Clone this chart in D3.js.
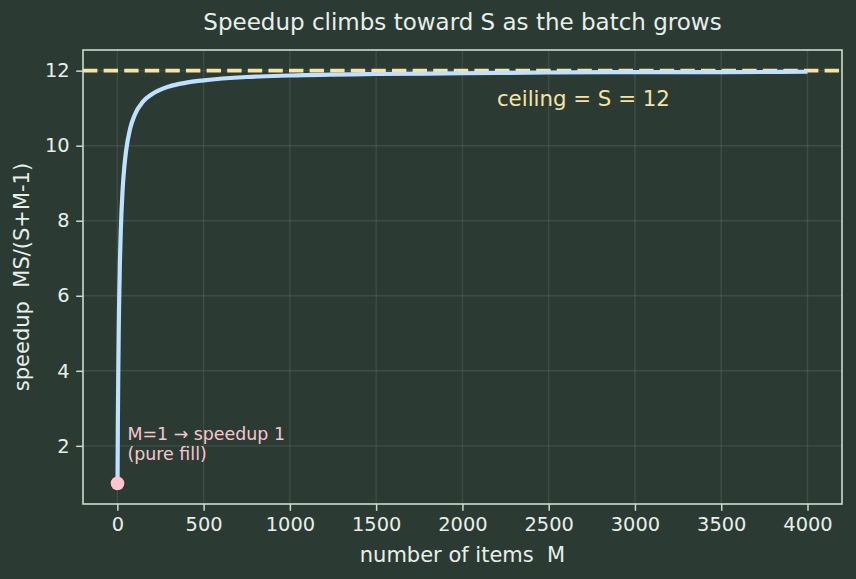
<!DOCTYPE html>
<html>
<head>
<meta charset="utf-8">
<script src="https://cdn.jsdelivr.net/npm/d3@7"></script>
<style>
  body { margin: 0; background: #2b3b34; }
  text { font-family: "DejaVu Sans", sans-serif; white-space: pre; }
</style>
</head>
<body>
<div id="chart"></div>
<script>
// values
var items = [1, 3, 5, 8, 10, 15, 20, 30, 40, 50, 75, 100, 150, 200, 300, 400, 500, 750, 1000, 1500, 2000, 2500, 3000, 3500, 4000];
var speedup = [1, 2.57, 3.75, 5.05, 5.71, 6.92, 7.74, 8.78, 9.41, 9.84, 10.47, 10.81, 11.18, 11.37, 11.58, 11.68, 11.74, 11.83, 11.87, 11.91, 11.93, 11.95, 11.96, 11.96, 11.97];
var ceiling = 12;
var xTicks = [0, 500, 1000, 1500, 2000, 2500, 3000, 3500, 4000];
var yTicks = [2, 4, 6, 8, 10, 12];

var W = 856, H = 579;
var margin = {top: 50, right: 14, bottom: 75, left: 83},
    width = W - margin.left - margin.right,
    height = H - margin.top - margin.bottom;

var fg = "#c9dccf", txt = "#e8efe9";

var svg = d3.select("#chart").append("svg")
    .attr("width", W).attr("height", H)
    .style("background", "#2b3b34");

svg.append("text")
    .attr("x", margin.left + width / 2).attr("y", 30)
    .attr("text-anchor", "middle")
    .attr("fill", txt).style("font-size", "23px")
    .text("Speedup climbs toward S as the batch grows");

var g = svg.append("g")
    .attr("transform", "translate(" + margin.left + "," + margin.top + ")");

var x = d3.scaleLinear().domain([-199, 4200]).range([0, width]);
var y = d3.scaleLinear().domain([0.45, 12.55]).range([height, 0]);

// grid
g.append("g").selectAll("line").data(xTicks).enter().append("line")
    .attr("x1", d => x(d)).attr("x2", d => x(d))
    .attr("y1", 0).attr("y2", height)
    .attr("stroke", "#ffffff").attr("stroke-opacity", 0.09).attr("stroke-width", 1.4);
g.append("g").selectAll("line").data(yTicks).enter().append("line")
    .attr("y1", d => y(d)).attr("y2", d => y(d))
    .attr("x1", 0).attr("x2", width)
    .attr("stroke", "#ffffff").attr("stroke-opacity", 0.09).attr("stroke-width", 1.4);

// axes
var xAxis = d3.axisBottom(x).tickValues(xTicks).tickSize(6.8).tickPadding(6.5).tickFormat(d3.format("d"));
var yAxis = d3.axisLeft(y).tickValues(yTicks).tickSize(6.8).tickPadding(6.5);

var gx = g.append("g").attr("transform", "translate(0," + height + ")").call(xAxis);
var gy = g.append("g").call(yAxis);
[gx, gy].forEach(function(a) {
    a.select(".domain").remove();
    a.selectAll("line").attr("stroke", fg).attr("stroke-width", 1.5);
    a.selectAll("text").attr("fill", txt).style("font-size", "19.4px")
        .style("font-family", "DejaVu Sans, sans-serif");
});

// frame
g.append("rect")
    .attr("width", width).attr("height", height)
    .attr("fill", "none").attr("stroke", fg).attr("stroke-width", 1.6);

// ceiling line
g.append("line")
    .attr("x1", 0).attr("x2", width)
    .attr("y1", y(ceiling)).attr("y2", y(ceiling))
    .attr("stroke", "#fbe3a0").attr("stroke-width", 3.9)
    .attr("stroke-dasharray", "14.4,6.2");

// curve
var data = items.map((m, i) => ({m: m, s: speedup[i]}));
var line = d3.line().x(d => x(d.m)).y(d => y(d.s)).curve(d3.curveMonotoneX);
g.append("path").datum(data)
    .attr("d", line)
    .attr("fill", "none").attr("stroke", "#bfe1ff").attr("stroke-width", 4.2);

// start point
g.append("circle")
    .attr("cx", x(items[0])).attr("cy", y(speedup[0])).attr("r", 6.8)
    .attr("fill", "#ffc4cf");

// annotations
g.append("text")
    .attr("x", x(items[0]) + 10).attr("y", y(speedup[0]) - 43)
    .attr("fill", "#f6c6d0").style("font-size", "17.4px")
    .text("M=1 \u2192 speedup 1");
g.append("text")
    .attr("x", x(items[0]) + 10).attr("y", y(speedup[0]) - 23)
    .attr("fill", "#f6c6d0").style("font-size", "17.4px")
    .text("(pure fill)");

g.append("text")
    .attr("x", x(2200)).attr("y", y(ceiling) + 35)
    .attr("fill", "#f7e3a3").style("font-size", "21.3px")
    .text("ceiling = S = 12");

// axis labels
svg.append("text")
    .attr("x", margin.left + width / 2).attr("y", 562)
    .attr("text-anchor", "middle")
    .attr("fill", txt).style("font-size", "21px")
    .text("number of items  M");
svg.append("text")
    .attr("transform", "translate(29," + (margin.top + height / 2) + ") rotate(-90)")
    .attr("text-anchor", "middle")
    .attr("fill", txt).style("font-size", "21px")
    .text("speedup  MS/(S+M-1)");
</script>
</body>
</html>
